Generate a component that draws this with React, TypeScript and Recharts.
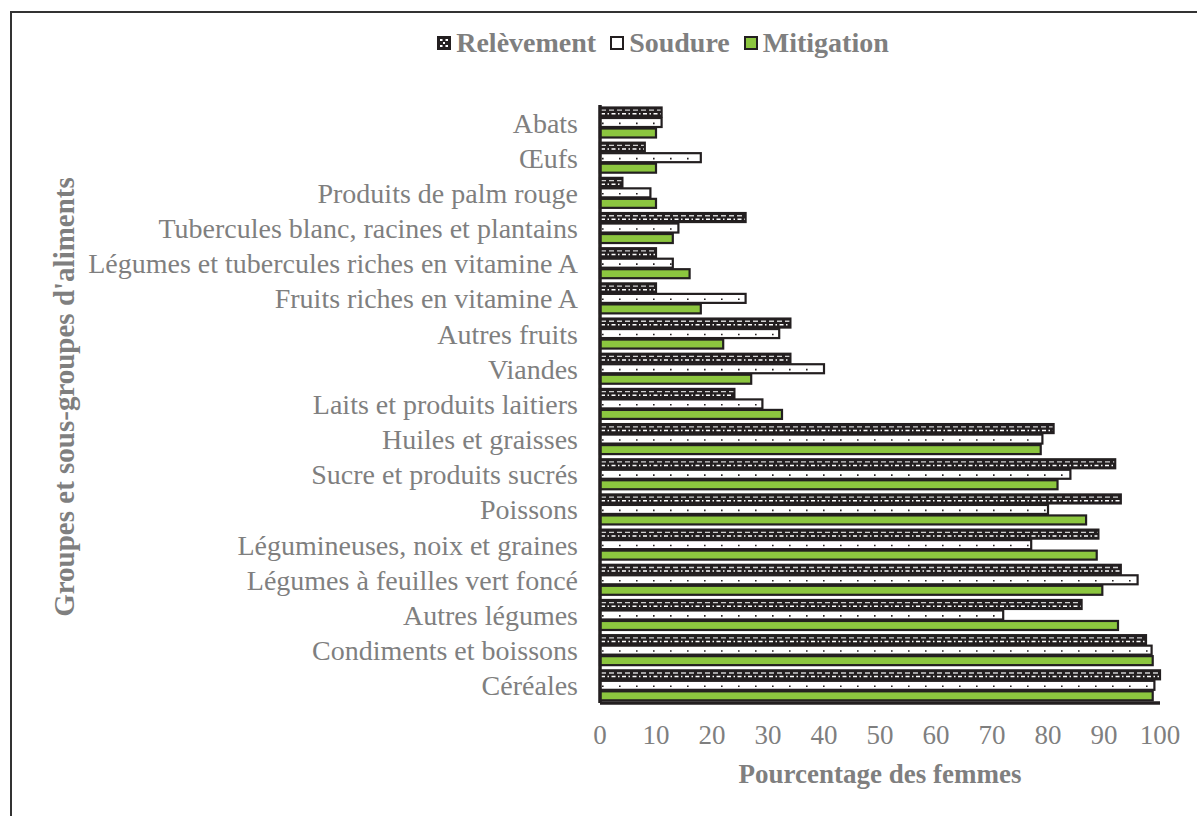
import React from "react";
import { BarChart, Bar, XAxis, YAxis } from "recharts";

const categories = [
  "Abats",
  "Œufs",
  "Produits de palm rouge",
  "Tubercules blanc, racines et plantains",
  "Légumes et tubercules riches en vitamine A",
  "Fruits riches en vitamine A",
  "Autres fruits",
  "Viandes",
  "Laits et produits laitiers",
  "Huiles et graisses",
  "Sucre et produits sucrés",
  "Poissons",
  "Légumineuses, noix et graines",
  "Légumes à feuilles vert foncé",
  "Autres légumes",
  "Condiments et boissons",
  "Céréales",
];
const releve = [11, 8, 4, 26, 10, 10, 34, 34, 24, 81, 92, 93, 89, 93, 86, 97.5, 100];
const soudure = [11, 18, 9, 14, 13, 26, 32, 40, 29, 79, 84, 80, 77, 96, 72, 98.5, 99];
const mitigation = [10, 10, 10, 13, 16, 18, 22, 27, 32.5, 78.7, 81.7, 86.8, 88.7, 89.7, 92.5, 98.7, 98.7];
const xTicks = [0, 10, 20, 30, 40, 50, 60, 70, 80, 90, 100];

const SERIF = '"Liberation Serif", "Times New Roman", serif';
const GREY = "#7f7f7f";
const INK = "#231f20";
const GREEN = "#8cc63f";

const data = categories.map((name, i) => ({
  name,
  releve: releve[i],
  soudure: soudure[i],
  mitigation: mitigation[i],
}));

// dark bar with white dash rows
const DashedBar = (props: any) => {
  const { x, y, width, height } = props;
  if (!width || width <= 0) return null;
  return (
    <g>
      <rect x={x} y={y} width={width} height={height} fill={INK} stroke={INK} strokeWidth={2.2} />
      <line x1={x + 1} x2={x + width - 1} y1={y + height * 0.3} y2={y + height * 0.3}
        stroke="#cfcfcf" strokeWidth={1.3} strokeDasharray="5 3" />
      <line x1={x + 1} x2={x + width - 1} y1={y + height * 0.7} y2={y + height * 0.7}
        stroke="#fff" strokeWidth={1.5} strokeDasharray="4 2.5 1.5 2.5" />
    </g>
  );
};

// white bar with small dots
const DottedBar = (props: any) => {
  const { x, y, width, height } = props;
  if (!width || width <= 0) return null;
  return (
    <g>
      <rect x={x} y={y} width={width} height={height} fill="#fff" stroke={INK} strokeWidth={2.2} />
      <line x1={x + 2} x2={x + width - 1} y1={y + height * 0.6} y2={y + height * 0.6}
        stroke={INK} strokeWidth={1.6} strokeDasharray="1.6 15.4" />
    </g>
  );
};

const PlainBar = (props: any) => {
  const { x, y, width, height } = props;
  if (!width || width <= 0) return null;
  return <rect x={x} y={y} width={width} height={height} fill={GREEN} stroke={INK} strokeWidth={2.2} />;
};

const XTitle = (props: any) => {
  const vb = props.viewBox || { x: 600, y: 703, width: 560 };
  return (
    <text x={vb.x + vb.width / 2} y={vb.y + 80} textAnchor="middle"
      style={{ fontFamily: SERIF, fontSize: 27, fontWeight: 700, fill: GREY }}>
      Pourcentage des femmes
    </text>
  );
};

const YTitle = (props: any) => {
  const vb = props.viewBox || { y: 105, height: 598 };
  const cy = vb.y + vb.height / 2 - 7;
  return (
    <text x={74} y={cy} textAnchor="middle" transform={`rotate(-90, 74, ${cy})`}
      style={{ fontFamily: SERIF, fontSize: 29, fontWeight: 700, fill: GREY }}>
      Groupes et sous-groupes d'aliments
    </text>
  );
};

const legendItems = [
  { label: "Relèvement", kind: "dash" },
  { label: "Soudure", kind: "dot" },
  { label: "Mitigation", kind: "plain" },
];

function Swatch({ kind }: { kind: string }) {
  return (
    <svg width={14} height={14} style={{ marginRight: 5, display: "block" }}>
      {kind === "dash" && (
        <g>
          <rect x={1} y={1} width={12} height={12} fill={INK} stroke={INK} strokeWidth={2} />
          <rect x={3} y={3} width={2.5} height={2} fill="#fff" />
          <rect x={8.5} y={3} width={2.5} height={2} fill="#fff" />
          <rect x={6} y={6} width={2} height={2} fill="#fff" />
          <rect x={3} y={9} width={2.5} height={2} fill="#fff" />
          <rect x={8.5} y={9} width={2.5} height={2} fill="#fff" />
        </g>
      )}
      {kind === "dot" && <rect x={1} y={1} width={12} height={12} fill="#fff" stroke={INK} strokeWidth={2} />}
      {kind === "plain" && <rect x={1} y={1} width={12} height={12} fill={GREEN} stroke={INK} strokeWidth={2} />}
    </svg>
  );
}

export default function App() {
  return (
    <div style={{ position: "absolute", left: 0, top: 0, width: 1197, height: 816, overflow: "hidden", background: "#fff" }}>
      <div style={{ position: "absolute", left: 10, top: 11, width: 1400, height: 1000, border: "2px solid #333" }} />
      <div style={{ position: "absolute", top: 29, left: 0, width: 1340, height: 28, display: "flex", justifyContent: "center", alignItems: "center" }}>
        {legendItems.map((it) => (
          <div key={it.label} style={{ display: "flex", alignItems: "center", marginRight: 14 }}>
            <Swatch kind={it.kind} />
            <span style={{ fontFamily: SERIF, fontSize: 28, fontWeight: 700, color: GREY, lineHeight: "28px" }}>{it.label}</span>
          </div>
        ))}
      </div>
      <div style={{ position: "absolute", left: 0, top: 0 }}>
        <BarChart width={1197} height={816} layout="vertical" data={data}
          margin={{ top: 105, right: 37, left: 0, bottom: 0 }} barCategoryGap={2.5} barGap={1.5}>
          <XAxis type="number" domain={[0, 100]} ticks={xTicks} height={113}
            axisLine={{ stroke: INK, strokeWidth: 3.5 }} tickLine={false} tickMargin={16}
            tick={{ fontSize: 27, fill: GREY, fontFamily: SERIF }} label={<XTitle />} />
          <YAxis type="category" dataKey="name" width={600} interval={0}
            axisLine={{ stroke: INK, strokeWidth: 3.5 }} tickLine={false} tickMargin={16}
            tick={{ fontSize: 28, fill: GREY, fontFamily: SERIF }} label={<YTitle />} />
          <Bar dataKey="releve" name="Relèvement" shape={<DashedBar />} isAnimationActive={false} />
          <Bar dataKey="soudure" name="Soudure" shape={<DottedBar />} isAnimationActive={false} />
          <Bar dataKey="mitigation" name="Mitigation" shape={<PlainBar />} isAnimationActive={false} />
        </BarChart>
      </div>
    </div>
  );
}
